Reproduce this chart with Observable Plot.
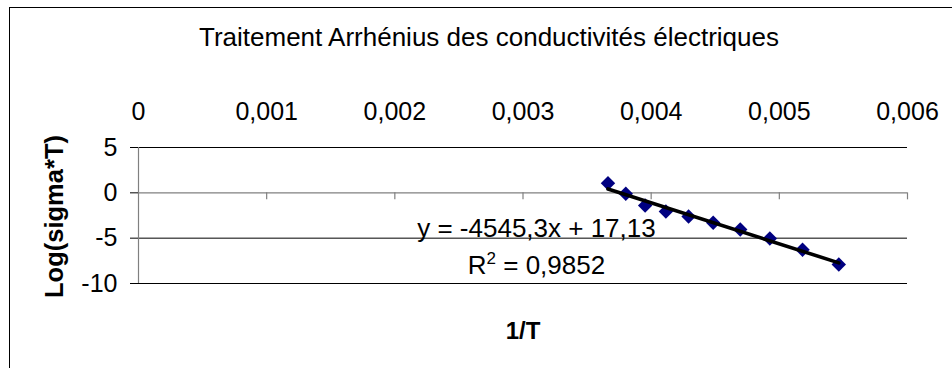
<!DOCTYPE html>
<html><head><meta charset="utf-8">
<script src="https://cdn.jsdelivr.net/npm/d3@7"></script>
<script src="https://cdn.jsdelivr.net/npm/@observablehq/plot@0.6"></script>
<style>
html,body{margin:0;padding:0;background:#fff;}
#wrap{position:relative;width:952px;height:368px;overflow:hidden;}
#frame{position:absolute;left:9px;top:7px;width:1000px;height:400px;border-left:1px solid #000;border-top:1px solid #000;box-sizing:border-box;pointer-events:none;}
</style></head><body>
<div id="wrap"><div id="chart"></div><div id="frame"></div></div>
<script>
const title = "Traitement Arrhénius des conductivités électriques";
const xLabel = "1/T";
const yLabel = "Log(sigma*T)";
const invT = [0.003663, 0.003802, 0.003953, 0.004115, 0.004292, 0.004484, 0.004695, 0.004926, 0.005181, 0.005464];
const logSigmaT = [1.06, -0.11, -1.40, -2.06, -2.61, -3.30, -4.04, -5.03, -6.28, -7.90];
const xTicks = [0, 0.001, 0.002, 0.003, 0.004, 0.005, 0.006];
const xTickLabels = ["0", "0,001", "0,002", "0,003", "0,004", "0,005", "0,006"];
const yTicks = [5, 0, -5, -10];
const yTickLabels = ["5", "0", "-5", "-10"];
const equationText = "y = -4545,3x + 17,13";
const r2Text = "R² = 0,9852";

const points = invT.map((x, i) => ({x, y: logSigmaT[i]}));
const font = "'Liberation Sans', Arial, sans-serif";

const chart = Plot.plot({
  width: 952,
  height: 368,
  marginLeft: 138,
  marginRight: 45,
  marginTop: 147,
  marginBottom: 85,
  x: {domain: [0, 0.006]},
  y: {domain: [-10, 5]},
  style: {fontFamily: font, fontSize: "25px", background: "transparent", color: "#000", overflow: "visible"},
  marks: [
    Plot.ruleY(yTicks.filter(d => d !== 0), {stroke: "#000", strokeWidth: 1}),
    Plot.ruleY([0], {stroke: "#808080", strokeWidth: 1.2}),
    Plot.ruleX([0], {stroke: "#808080", strokeWidth: 1.2}),
    Plot.ruleX(xTicks.slice(1), {y1: 0, y2: -0.77, stroke: "#808080", strokeWidth: 1.2}),
    Plot.axisY({ticks: yTicks, tickFormat: d => yTickLabels[yTicks.indexOf(d)], tickSize: 8, tickPadding: 13, fontSize: 25, label: null, stroke: "#000"}),
    Plot.axisX({anchor: "top", ticks: xTicks, tickFormat: d => xTickLabels[xTicks.indexOf(d)], tickSize: 0, tickPadding: 28, fontSize: 25, label: null}),
    Plot.dot(points, {x: "x", y: "y", symbol: "diamond2", r: 6.5, fill: "#000080", stroke: "none"}),
    Plot.linearRegressionY(points, {x: "x", y: "y", stroke: "#000", strokeWidth: 3.6, ci: 0}),
    Plot.text([equationText], {x: 0.003105, y: -4.82, text: d => d, lineAnchor: "bottom", fontSize: 26}),
    Plot.text([r2Text], {x: 0.003105, y: -8.95, text: d => d, lineAnchor: "bottom", fontSize: 26, className: "r2label"}),
    Plot.text([title], {frameAnchor: "top", dx: -34, dy: -102, text: d => d, lineAnchor: "bottom", fontSize: 26}),
    Plot.text([xLabel], {frameAnchor: "bottom", dy: 55, text: d => d, lineAnchor: "bottom", fontSize: 24, fontWeight: "bold"}),
    Plot.text([yLabel], {frameAnchor: "left", dx: -76, dy: 1, rotate: -90, textAnchor: "middle", text: d => d, lineAnchor: "bottom", fontSize: 25.5, fontWeight: "bold"})
  ]
});
document.getElementById("chart").appendChild(chart);

// superscript "2" in R² label
const ns = "http://www.w3.org/2000/svg";
chart.querySelectorAll("text").forEach(t => {
  if (t.textContent === r2Text) {
    const rest = r2Text.slice(2);
    t.textContent = "";
    t.appendChild(document.createTextNode("R"));
    const sup = document.createElementNS(ns, "tspan");
    sup.setAttribute("dy", "-10");
    sup.setAttribute("font-size", "17");
    sup.textContent = "2";
    t.appendChild(sup);
    const tail = document.createElementNS(ns, "tspan");
    tail.setAttribute("dy", "10");
    tail.textContent = rest;
    t.appendChild(tail);
  }
});
</script>
</body></html>
